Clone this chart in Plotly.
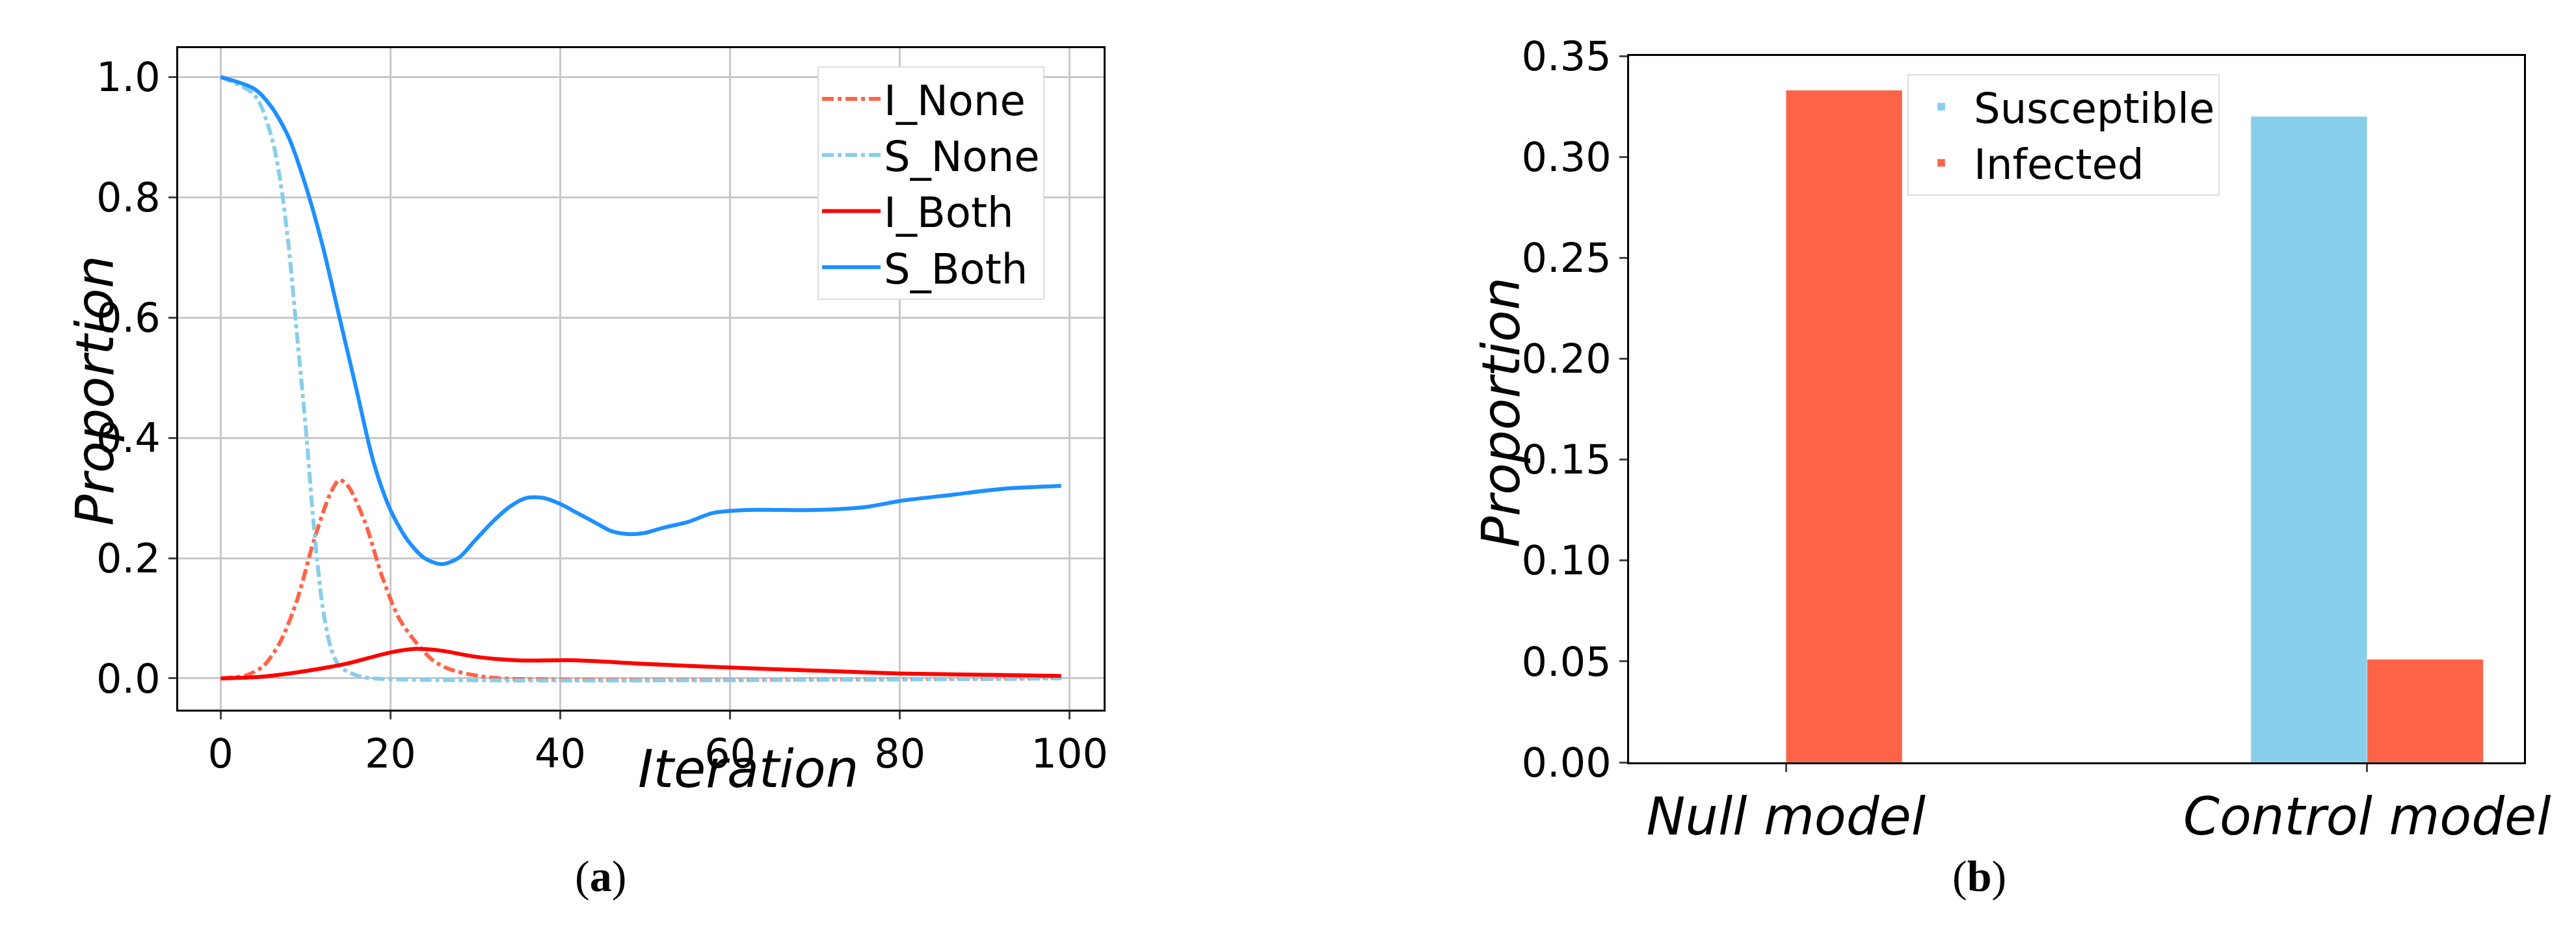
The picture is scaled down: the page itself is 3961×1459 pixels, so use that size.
import plotly.graph_objects as go

# %% Данные
s_both_x = [0, 4, 6, 8, 10, 12, 14, 16, 18, 20, 22, 24, 26, 28, 30, 32, 34, 36, 38, 40, 42, 44, 46, 48, 50, 52, 55, 58, 62, 70, 76, 80, 86, 92, 99]
s_both_y = [1.0, 0.98, 0.95, 0.90, 0.82, 0.72, 0.60, 0.48, 0.36, 0.28, 0.23, 0.20, 0.19, 0.20, 0.23, 0.26, 0.285, 0.30, 0.30, 0.29, 0.275, 0.26, 0.245, 0.24, 0.242, 0.25, 0.26, 0.275, 0.28, 0.28, 0.285, 0.295, 0.305, 0.315, 0.32]
s_none_x = [0, 4, 6, 7, 8, 9, 10, 11, 12, 13, 14, 16, 18, 99]
s_none_y = [1.0, 0.97, 0.90, 0.83, 0.72, 0.57, 0.42, 0.25, 0.12, 0.05, 0.02, 0.005, 0.0, 0.0]
i_none_x = [0, 3, 5, 7, 9, 11, 13, 14, 15, 17, 19, 21, 23, 25, 27, 30, 33, 99]
i_none_y = [0.0, 0.005, 0.02, 0.06, 0.13, 0.23, 0.31, 0.33, 0.32, 0.26, 0.17, 0.10, 0.06, 0.03, 0.015, 0.005, 0.0, 0.0]
i_both_x = [0, 5, 10, 15, 20, 23, 26, 30, 35, 42, 50, 60, 70, 80, 90, 99]
i_both_y = [0.0, 0.003, 0.012, 0.025, 0.043, 0.049, 0.046, 0.036, 0.030, 0.030, 0.024, 0.018, 0.013, 0.008, 0.006, 0.004]

models = ['Null model', 'Control model']
susceptible = [0.0, 0.32]
infected = [0.333, 0.051]

FONT = 'DejaVu Sans'
W, H = 3961, 1459
fig = go.Figure()

lines = [
    ('I_None', i_none_x, i_none_y, '#FF6347', 'dashdot'),
    ('S_None', s_none_x, s_none_y, '#87CEEB', 'dashdot'),
    ('I_Both', i_both_x, i_both_y, '#FF0000', 'solid'),
    ('S_Both', s_both_x, s_both_y, '#1E90FF', 'solid'),
]
for name, x, y, c, d in lines:
    fig.add_trace(go.Scatter(x=x, y=y, name=name, mode='lines',
                             line=dict(color=c, dash=d, width=6, shape='spline', smoothing=0.8),
                             xaxis='x', yaxis='y', legend='legend'))

fig.add_trace(go.Bar(x=[0, 1], y=susceptible, name='Susceptible', marker_color='#87CEEB',
                     xaxis='x2', yaxis='y2', legend='legend2'))
fig.add_trace(go.Bar(x=[0, 1], y=infected, name='Infected', marker_color='#FF6347',
                     xaxis='x2', yaxis='y2', legend='legend2'))

ax = dict(showline=True, mirror=True, linecolor='black', linewidth=3, ticks='outside',
          ticklen=12, tickwidth=3, tickfont=dict(size=62, family=FONT, color='black'),
          zeroline=False, automargin=False)

fig.update_layout(
    width=W, height=H, margin=dict(l=0, r=0, t=0, b=0),
    plot_bgcolor='white', paper_bgcolor='white', font=dict(family=FONT),
    barmode='group', bargap=0.6, bargroupgap=0,
    xaxis=dict(ax, domain=[266 / W, 1689 / W], range=[-5, 104], tickvals=[0, 20, 40, 60, 80, 100],
               showgrid=True, gridcolor='#c8c8c8', gridwidth=3),
    yaxis=dict(ax, domain=[1 - 1083 / H, 1 - 66 / H], range=[-0.052, 1.048],
               tickvals=[0, 0.2, 0.4, 0.6, 0.8, 1.0], tickformat='.1f',
               showgrid=True, gridcolor='#c8c8c8', gridwidth=3),
    xaxis2=dict(ax, domain=[2497 / W, 3873 / W], range=[-0.27, 1.27], tickvals=[0, 1], ticktext=models,
                showgrid=False, anchor='y2',
                tickfont=dict(size=80, family=FONT, color='black', style='italic')),
    yaxis2=dict(ax, domain=[1 - 1164 / H, 1 - 78 / H], range=[0, 0.35], dtick=0.05, tickformat='.2f',
                showgrid=False, anchor='x2'),
    legend=dict(x=1249 / W, y=1 - 94 / H, xanchor='left', yanchor='top', bgcolor='white',
                bordercolor='#dddddd', borderwidth=2, itemwidth=90,
                font=dict(size=64, family=FONT, color='black')),
    legend2=dict(x=2925 / W, y=1 - 106 / H, xanchor='left', yanchor='top', bgcolor='white',
                 bordercolor='#dddddd', borderwidth=2, itemwidth=90,
                 font=dict(size=64, family=FONT, color='black')),
    showlegend=True,
)

annots = [
    dict(text='Iteration', x=971, y=1223, angle=0),
    dict(text='Proportion', x=89, y=593, angle=-90),
    dict(text='Proportion', x=2300, y=626, angle=-90),
]
for a in annots:
    fig.add_annotation(text=a['text'], x=a['x'] / W, y=1 - a['y'] / H, xref='paper', yref='paper',
                       showarrow=False, textangle=a['angle'],
                       font=dict(size=80, family=FONT, color='black', style='italic'))
for t, x in [('(<b>a</b>)', 874), ('(<b>b</b>)', 3079)]:
    fig.add_annotation(text=t, x=x / W, y=1 - 1379 / H, xref='paper', yref='paper', showarrow=False,
                       font=dict(size=68, family='Liberation Serif', color='black'))

fig.write_html("out.html")
